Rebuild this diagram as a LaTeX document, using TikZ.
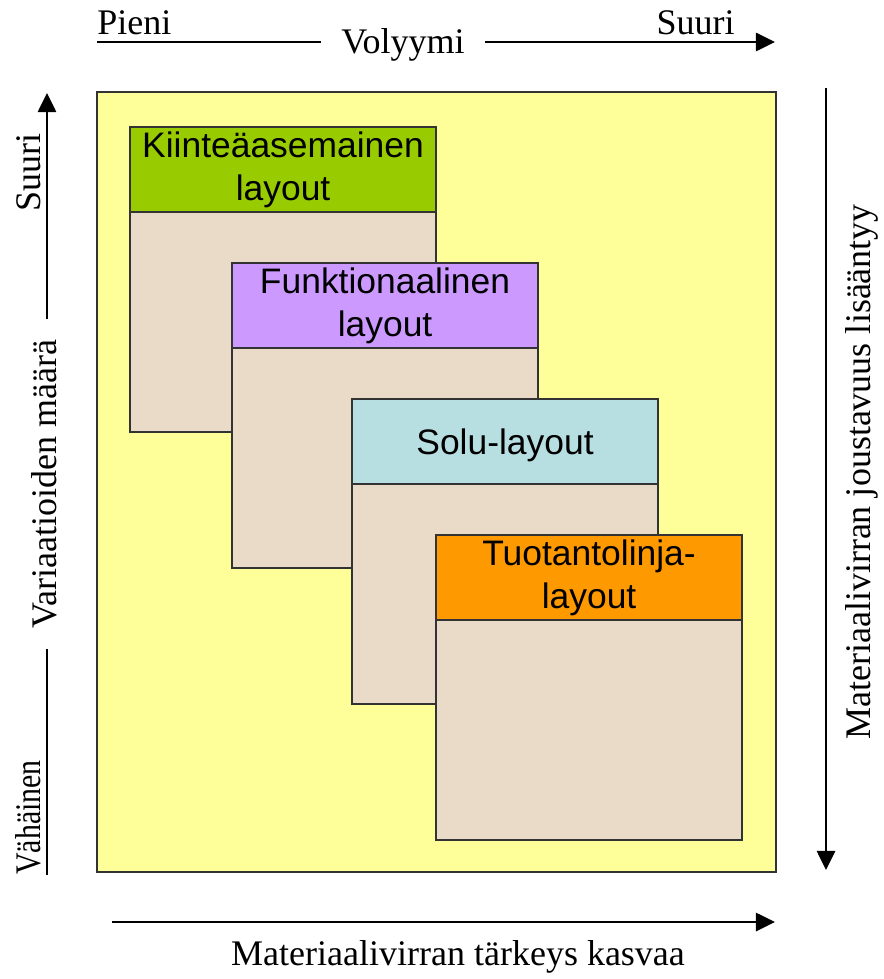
\documentclass[tikz,border=0pt]{standalone}
\usepackage{fontspec}
\setmainfont{Liberation Serif}
\newfontfamily\boxfont{Liberation Sans}
\usetikzlibrary{positioning,arrows.meta}
\definecolor{paper}{HTML}{FFFF99}
\definecolor{fixgreen}{HTML}{99CC00}
\definecolor{funclilac}{HTML}{CC99FF}
\definecolor{cellblue}{HTML}{B7DFE1}
\definecolor{lineorange}{HTML}{FF9900}
\definecolor{boxtan}{HTML}{EADAC8}
\definecolor{edge}{HTML}{333333}
\begin{document}
\begin{tikzpicture}[
            x=0.025cm, y=-0.025cm,
            axis/.style={line width=1.4pt, black},
            tip/.style={-{Triangle[length=0.48cm, width=0.46cm]}},
            lbl/.style={font=\fontsize{25.6}{30}\selectfont, inner sep=0pt},
            gap/.style={lbl, inner xsep=0.5cm},
            header/.style={draw=edge, line width=0.9pt, outer sep=0pt, inner sep=0pt,
                minimum width=7.65cm, minimum height=2.125cm, align=center,
                font=\boxfont\fontsize{25.2}{30.6}\selectfont,
                execute at begin node=\rule{0pt}{0.85cm}},
            body/.style={draw=edge, line width=0.9pt, outer sep=0pt, fill=boxtan,
                minimum width=7.65cm, minimum height=5.5cm}
            ]
            \useasboundingbox (0,0) rectangle (883,979);
            \fill[white] (0,0) rectangle (883,979);
            \draw[edge, line width=1pt, fill=paper] (97,92) rectangle (776,872);

            % volume axis
            \coordinate (vs) at (97,42);
            \coordinate (ve) at (775,42);
            \node[gap] (vol) at (403,45) {Volyymi};
            \draw[axis] (vs) -- (vs -| vol.west);
            \draw[axis, tip] (ve -| vol.east) -- (ve);
            \node[lbl, anchor=base west] (small) at (97,35) {Pieni};
            \node[lbl, anchor=base east] (large) at (735,35) {Suuri};

            % variation axis
            \coordinate (ls) at (47,875);
            \coordinate (le) at (47,93);
            \node[gap, rotate=90] (var) at (44,484) {Variaatioiden määrä};
            \draw[axis] (ls) -- (ls |- var.west);
            \draw[axis, tip] (le |- var.east) -- (le);
            \node[lbl, rotate=90, anchor=base west] (few) at (40,875) {\scalebox{0.83}[1]{Vähäinen}};
            \node[lbl, rotate=90, anchor=base east] (many) at (40,133) {Suuri};

            \coordinate (rs) at (826,88);
            \coordinate (re) at (826,870);
            \draw[axis, tip] (rs) -- (re);
            \node[lbl, rotate=90] (flex) at (862,472) {Materiaalivirran joustavuus lisääntyy};

            \coordinate (bs) at (112,922);
            \coordinate (be) at (775,922);
            \draw[axis, tip] (bs) -- (be);
            \node[lbl] (imp) at (458,957) {Materiaalivirran tärkeys kasvaa};

            % layouts
            \node[header, fill=fixgreen, anchor=north west] (fixh) at (130,127) {Kiinteäasemainen\\layout};
            \node[body, below=0pt of fixh] (fixb) {};
            \node[header, fill=funclilac, anchor=north west] (funh) at (232,263) {Funktionaalinen\\layout};
            \node[body, below=0pt of funh] (funb) {};
            \node[header, fill=cellblue, anchor=north west] (celh) at (352,399) {Solu-layout};
            \node[body, below=0pt of celh] (celb) {};
            \node[header, fill=lineorange, anchor=north west] (linh) at (436,535) {Tuotantolinja-\\layout};
            \node[body, below=0pt of linh] (linb) {};
\end{tikzpicture}
\end{document}
